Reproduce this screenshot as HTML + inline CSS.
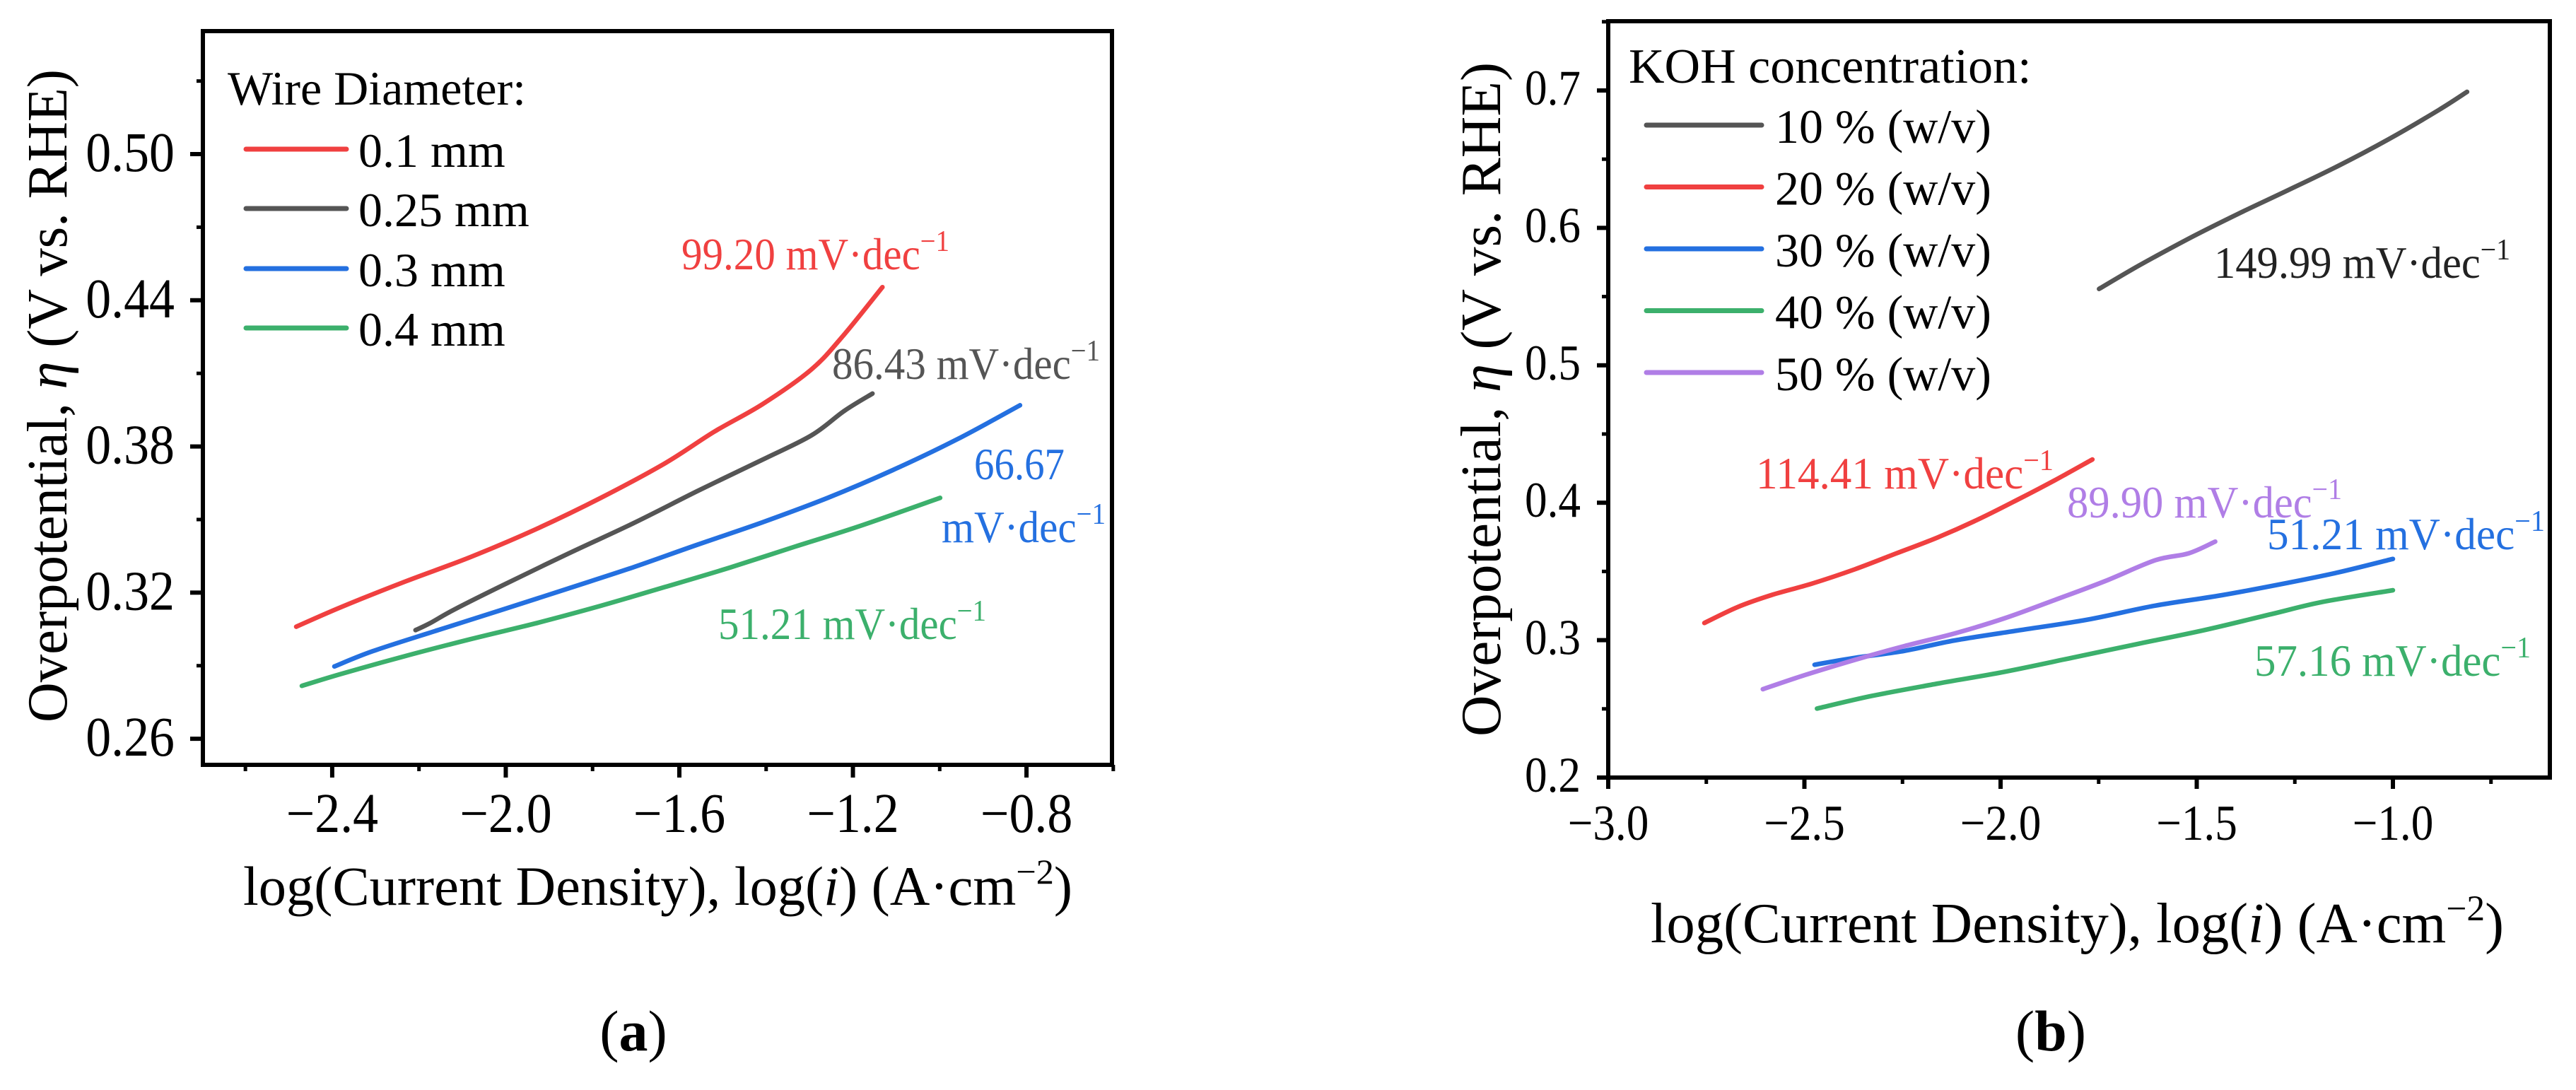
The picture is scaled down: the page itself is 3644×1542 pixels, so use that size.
<!DOCTYPE html>
<html><head><meta charset="utf-8"><style>
html,body{margin:0;padding:0;background:#fff;}
svg{display:block;font-family:"Liberation Serif","DejaVu Serif",serif;}
</style></head><body>
<svg id="fig" width="3644" height="1542" viewBox="0 0 3644 1542" xmlns="http://www.w3.org/2000/svg"></svg>
<script>
// ---------- Panel (a) data ----------
const aSeriesNames = ["0.1 mm","0.25 mm","0.3 mm","0.4 mm"];
const aX_01 = [-2.483,-2.380,-2.231,-2.081,-1.931,-1.781,-1.633,-1.520,-1.408,-1.295,-1.220,-1.132];
const aY_01 = [0.306,0.314,0.3246,0.3346,0.346,0.3589,0.3731,0.386,0.3974,0.4117,0.426,0.4454];
const aX_025 = [-2.208,-2.175,-2.118,-2.006,-1.856,-1.708,-1.558,-1.408,-1.295,-1.220,-1.155];
const aY_025 = [0.3046,0.3074,0.3131,0.3231,0.336,0.3483,0.3617,0.3746,0.3846,0.3946,0.4017];
const aX_03 = [-2.395,-2.306,-2.156,-2.006,-1.856,-1.708,-1.558,-1.408,-1.258,-1.108,-0.958,-0.815];
const aY_03 = [0.2897,0.296,0.3046,0.3131,0.3217,0.3303,0.3397,0.3489,0.3589,0.3703,0.3831,0.3969];
const aX_04 = [-2.470,-2.380,-2.231,-2.081,-1.931,-1.781,-1.633,-1.483,-1.333,-1.183,-0.999];
const aY_04 = [0.2817,0.2866,0.294,0.3009,0.3074,0.3146,0.3223,0.3303,0.3389,0.3474,0.3589];
const aXTicks = [-2.4,-2.0,-1.6,-1.2,-0.8];
const aXTickLabels = ["−2.4","−2.0","−1.6","−1.2","−0.8"];
const aXMinor = [-2.6,-2.2,-1.8,-1.4,-1.0,-0.6];
const aYTicks = [0.26,0.32,0.38,0.44,0.50];
const aYTickLabels = ["0.26","0.32","0.38","0.44","0.50"];
const aYMinor = [0.29,0.35,0.41,0.47,0.53];

// ---------- Panel (b) data ----------
const bSeriesNames = ["10 % (w/v)","20 % (w/v)","30 % (w/v)","40 % (w/v)","50 % (w/v)"];
const bX_10 = [-1.749,-1.649,-1.521,-1.394,-1.266,-1.138,-1.011,-0.883,-0.811];
const bY_10 = [0.5556,0.5723,0.5921,0.6103,0.6276,0.6453,0.6645,0.6858,0.6990];
const bX_20 = [-2.755,-2.670,-2.585,-2.479,-2.372,-2.266,-2.160,-2.053,-1.947,-1.862,-1.766];
const bY_20 = [0.3125,0.3241,0.3327,0.3413,0.3515,0.3631,0.3748,0.3884,0.4036,0.4163,0.4315];
const bX_30 = [-2.474,-2.372,-2.245,-2.117,-1.947,-1.777,-1.606,-1.436,-1.266,-1.138,-1.0];
const bY_30 = [0.2821,0.2871,0.2922,0.2998,0.3074,0.315,0.3251,0.3327,0.3418,0.3494,0.3591];
const bX_40 = [-2.468,-2.330,-2.160,-1.989,-1.819,-1.649,-1.479,-1.309,-1.181,-1.0];
const bY_40 = [0.2502,0.2593,0.2684,0.277,0.2871,0.2973,0.3074,0.319,0.3277,0.3363];
const bX_50 = [-2.606,-2.5,-2.372,-2.245,-2.117,-1.989,-1.862,-1.734,-1.606,-1.521,-1.453];
const bY_50 = [0.2643,0.2745,0.2856,0.2957,0.3049,0.316,0.3292,0.3429,0.3581,0.3631,0.3717];
const bXTicks = [-3.0,-2.5,-2.0,-1.5,-1.0];
const bXTickLabels = ["−3.0","−2.5","−2.0","−1.5","−1.0"];
const bXMinor = [-2.75,-2.25,-1.75,-1.25,-0.75];
const bYTicks = [0.2,0.3,0.4,0.5,0.6,0.7];
const bYTickLabels = ["0.2","0.3","0.4","0.5","0.6","0.7"];
const bYMinor = [0.25,0.35,0.45,0.55,0.65,0.75];

const NS = "http://www.w3.org/2000/svg";
const svg = document.getElementById('fig');
function el(tag, attrs, parent){
  const e = document.createElementNS(NS, tag);
  for (const k in attrs) e.setAttribute(k, attrs[k]);
  (parent||svg).appendChild(e);
  return e;
}
function smoothPath(pts){
  let d = 'M' + pts[0][0].toFixed(1) + ' ' + pts[0][1].toFixed(1);
  for (let i=0;i<pts.length-1;i++){
    const p0 = pts[Math.max(0,i-1)], p1 = pts[i], p2 = pts[i+1], p3 = pts[Math.min(pts.length-1,i+2)];
    const c1x = p1[0] + (p2[0]-p0[0])/6, c1y = p1[1] + (p2[1]-p0[1])/6;
    const c2x = p2[0] - (p3[0]-p1[0])/6, c2y = p2[1] - (p3[1]-p1[1])/6;
    d += ` C${c1x.toFixed(1)} ${c1y.toFixed(1)} ${c2x.toFixed(1)} ${c2y.toFixed(1)} ${p2[0].toFixed(1)} ${p2[1].toFixed(1)}`;
  }
  return d;
}

function panel(cfg){
  const g = el('g', {});
  
  
  const L=cfg.L,R=cfg.R,T=cfg.T,B=cfg.B;
  const sx = v => L + (v-cfg.x0)/(cfg.x1-cfg.x0)*(R-L);
  const sy = v => B - (v-cfg.y0)/(cfg.y1-cfg.y0)*(B-T);
  cfg.series.forEach(s=>{
    const pts = s.x.map((xv,i)=>[sx(xv), sy(s.y[i])]);
    const p = el('path', {d:smoothPath(pts), fill:'none', stroke:s.color, 'stroke-width':6.5, 'stroke-linecap':'round','stroke-linejoin':'round'}, g);
    
    
  });
  const fr = el('rect', {x:L, y:T, width:R-L, height:B-T, fill:'none', stroke:'#000', 'stroke-width':6}, g);
  
  
  cfg.xt.forEach((v,i)=>{
    const x = sx(v);
    const t = el('line', {x1:x, x2:x, y1:B, y2:B+cfg.majLen, stroke:'#000','stroke-width':6}, g);
    
    
    const lb = el('text', {transform:`translate(${x.toFixed(1)},${cfg.xlabY}) scale(${cfg.tsx},1)`, 'text-anchor':'middle','font-size':cfg.tfs, fill:'#000'}, g);
    lb.textContent = cfg.xtl[i];
    
    
  });
  cfg.xm.forEach(v=>{
    const x = sx(v);
    const t = el('line', {x1:x, x2:x, y1:B, y2:B+cfg.minLen, stroke:'#000','stroke-width':5}, g);
    
    
  });
  cfg.yt.forEach((v,i)=>{
    const y = sy(v);
    const t = el('line', {x1:L-cfg.majLen, x2:L, y1:y, y2:y, stroke:'#000','stroke-width':6}, g);
    
    
    const lb = el('text', {transform:`translate(${cfg.ylabX},${(y+cfg.ylabDy).toFixed(1)}) scale(${cfg.tsx},1)`, 'text-anchor':'end','font-size':cfg.tfs, fill:'#000'}, g);
    lb.textContent = cfg.ytl[i];
    
    
  });
  cfg.ym.forEach(v=>{
    const y = sy(v);
    if (y < T-1) return;
    const t = el('line', {x1:L-cfg.minLen, x2:L, y1:y, y2:y, stroke:'#000','stroke-width':5}, g);
    
    
  });
  return g;
}

panel({name:'panel-a', L:287,R:1573,T:44,B:1082, x0:-2.698,x1:-0.603, y0:0.2493,y1:0.5505,
  series:[{key:'0-1mm',x:aX_01,y:aY_01,color:'#f04040'},{key:'0-25mm',x:aX_025,y:aY_025,color:'#555555'},
          {key:'0-3mm',x:aX_03,y:aY_03,color:'#2470e0'},{key:'0-4mm',x:aX_04,y:aY_04,color:'#3cb06c'}],
  xt:aXTicks, xtl:aXTickLabels, xm:aXMinor, yt:aYTicks, ytl:aYTickLabels, ym:aYMinor,
  majLen:18, minLen:9, tfs:79, tsx:0.91, xlabY:1177, ylabX:247, ylabDy:24});

panel({name:'panel-b', L:2275,R:3607,T:30,B:1100, x0:-3.0,x1:-0.6, y0:0.2,y1:0.7504,
  series:[{key:'10pct',x:bX_10,y:bY_10,color:'#555555'},{key:'20pct',x:bX_20,y:bY_20,color:'#f04040'},
          {key:'30pct',x:bX_30,y:bY_30,color:'#2470e0'},{key:'40pct',x:bX_40,y:bY_40,color:'#3cb06c'},
          {key:'50pct',x:bX_50,y:bY_50,color:'#b07ee6'}],
  xt:bXTicks, xtl:bXTickLabels, xm:bXMinor, yt:bYTicks, ytl:bYTickLabels, ym:bYMinor,
  majLen:16, minLen:9, tfs:71, tsx:0.89, xlabY:1188, ylabX:2236, ylabDy:20});
</script>

<script>
(function(){
const svg=document.getElementById('fig');
function add(html){ svg.insertAdjacentHTML('beforeend', html); }
add(`<g font-size="68" fill="#000">
<text x="322" y="148">Wire Diameter:</text>
<line x1="348" x2="490" y1="211" y2="211" stroke="#f04040" stroke-width="7" stroke-linecap="round"/>
<text x="507" y="236">0.1 mm</text>
<line x1="348" x2="490" y1="295" y2="295" stroke="#555555" stroke-width="7" stroke-linecap="round"/>
<text x="507" y="320">0.25 mm</text>
<line x1="348" x2="490" y1="380" y2="380" stroke="#2470e0" stroke-width="7" stroke-linecap="round"/>
<text x="507" y="405">0.3 mm</text>
<line x1="348" x2="490" y1="464" y2="464" stroke="#3cb06c" stroke-width="7" stroke-linecap="round"/>
<text x="507" y="489">0.4 mm</text>
</g>`);
const bl=[["10pct","#555555","10 % (w/v)"],["20pct","#f04040","20 % (w/v)"],["30pct","#2470e0","30 % (w/v)"],["40pct","#3cb06c","40 % (w/v)"],["50pct","#b07ee6","50 % (w/v)"]];
let s=`<g font-size="68" fill="#000"><text x="2304" y="117" font-size="70">KOH concentration:</text>`;
bl.forEach((e,i)=>{const y=177+i*87.5;
 s+=`<line x1="2329" x2="2492" y1="${y}" y2="${y}" stroke="${e[1]}" stroke-width="7" stroke-linecap="round"/>`;
 s+=`<text x="2511" y="${y+25}">${e[2]}</text>`;});
s+=`</g>`; add(s);
add(`<text x="344" y="1280" font-size="78" textLength="1173" lengthAdjust="spacingAndGlyphs">log(Current Density), log(<tspan font-style="italic">i</tspan>) (A·cm<tspan dy="-30" font-size="50">−2</tspan><tspan dy="30">)</tspan></text>`);
add(`<text x="2335" y="1333" font-size="80" textLength="1207" lengthAdjust="spacingAndGlyphs">log(Current Density), log(<tspan font-style="italic">i</tspan>) (A·cm<tspan dy="-31" font-size="51">−2</tspan><tspan dy="31">)</tspan></text>`);
add(`<text transform="translate(94,560) rotate(-90)" text-anchor="middle" font-size="80" textLength="924" lengthAdjust="spacingAndGlyphs">Overpotential, <tspan font-style="italic">η</tspan> (V vs. RHE)</text>`);
add(`<text transform="translate(2122,565) rotate(-90)" text-anchor="middle" font-size="80" textLength="954" lengthAdjust="spacingAndGlyphs">Overpotential, <tspan font-style="italic">η</tspan> (V vs. RHE)</text>`);
function ann(name,x0,x1,y,color,txt){
 add(`<text x="${x0}" y="${y}" font-size="64" fill="${color}" textLength="${x1-x0}" lengthAdjust="spacingAndGlyphs">${txt}<tspan dy="-26" font-size="42">−1</tspan></text>`);
}
ann('slope-label-0-1mm',964,1343,381,'#f04040','99.20 mV·dec');
ann('slope-label-0-25mm',1177,1556,536,'#555555','86.43 mV·dec');
add(`<text x="1378" y="678" font-size="64" fill="#2470e0" textLength="128" lengthAdjust="spacingAndGlyphs">66.67</text>`);
ann('slope-label-0-3mm-unit',1332,1564,767,'#2470e0','mV·dec');
ann('slope-label-0-4mm',1016,1395,904,'#3cb06c','51.21 mV·dec');
ann('slope-label-10pct',3132,3551,393,'#222222','149.99 mV·dec');
ann('slope-label-20pct',2484,2905,691,'#f04040','114.41 mV·dec');
ann('slope-label-50pct',2924,3313,732,'#b07ee6','89.90 mV·dec');
ann('slope-label-30pct',3207,3600,777,'#2470e0','51.21 mV·dec');
ann('slope-label-40pct',3189,3580,956,'#3cb06c','57.16 mV·dec');
add(`<text x="896" y="1486" text-anchor="middle" font-size="82">(<tspan font-weight="bold">a</tspan>)</text>`);
add(`<text x="2901" y="1486" text-anchor="middle" font-size="82">(<tspan font-weight="bold">b</tspan>)</text>`);
})();
</script>
</body></html>
